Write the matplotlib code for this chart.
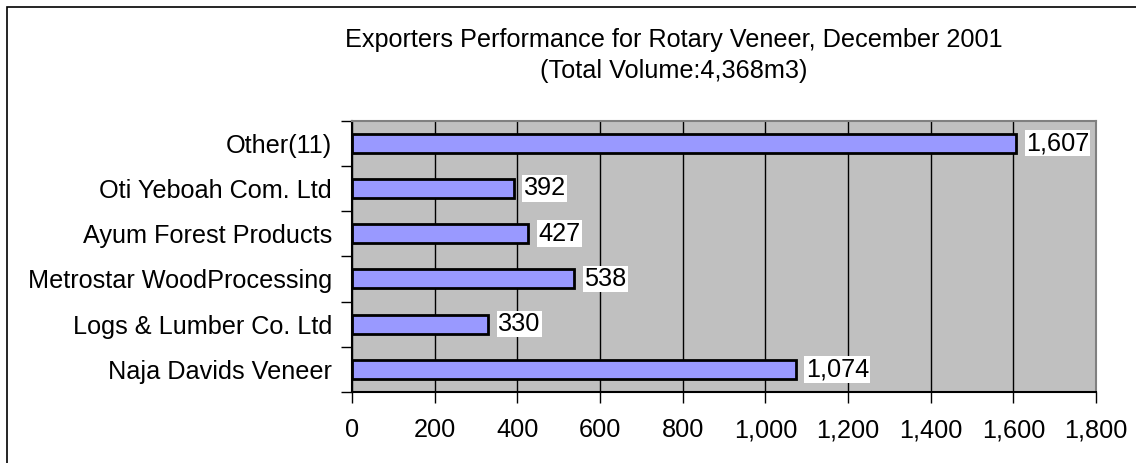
import matplotlib.pyplot as plt
from matplotlib.patches import Rectangle
from matplotlib.ticker import FuncFormatter

# 数据
companies = ['Naja Davids Veneer', 'Logs & Lumber Co. Ltd', 'Metrostar WoodProcessing',
             'Ayum Forest Products', 'Oti Yeboah Com. Ltd', 'Other(11)']
volumes = [1074, 330, 538, 427, 392, 1607]
xticks = [0, 200, 400, 600, 800, 1000, 1200, 1400, 1600, 1800]

plt.rcParams['font.family'] = ['Liberation Sans', 'DejaVu Sans']
fs = 18.2

fig = plt.figure(figsize=(11.36, 4.63), dpi=100)
ax = fig.add_axes([352 / 1136, 71 / 463, 744 / 1136, 271.5 / 463])
ax.set_facecolor('#c0c0c0')

pos = list(range(len(companies)))
ax.barh(pos, volumes, height=0.42, color='#9999ff', edgecolor='black', linewidth=2, zorder=3)

# 数据标签
for p, v in zip(pos, volumes):
    ax.annotate(f'{v:,}', (v, p), xytext=(7, 0), textcoords='offset points',
                va='center', ha='left', fontsize=fs, zorder=4,
                bbox=dict(facecolor='white', edgecolor='none', pad=1))

ax.set_xlim(0, 1800)
ax.set_ylim(-0.5, len(companies) - 0.5)
ax.set_xticks(xticks)
ax.xaxis.set_major_formatter(FuncFormatter(lambda x, _: f'{int(x):,}'))
ax.xaxis.grid(True, color='black', linewidth=1, zorder=1)
ax.set_axisbelow(True)

ax.set_yticks(pos)
ax.set_yticklabels(companies)
ax.set_yticks([p - 0.5 for p in pos] + [len(companies) - 0.5], minor=True)
ax.tick_params(axis='y', which='major', length=0, pad=14.4, labelsize=fs)
ax.tick_params(axis='y', which='minor', length=8, width=1, color='black')
ax.tick_params(axis='x', length=8, width=1, pad=11, labelsize=fs)

for s in ['left', 'bottom']:
    ax.spines[s].set_color('black')
    ax.spines[s].set_linewidth(1.5)
for s in ['right', 'top']:
    ax.spines[s].set_color('#808080')
    ax.spines[s].set_linewidth(1.5)

fig.text(674 / 1136, 1 - 40 / 463, 'Exporters Performance for Rotary Veneer, December 2001',
         ha='center', va='center', fontsize=fs)
fig.text(674 / 1136, 1 - 71 / 463, '(Total Volume:4,368m3)',
         ha='center', va='center', fontsize=fs)

# 外框
fig.patches.append(Rectangle((7 / 1136, -0.1), 1.2, 1.1 - 7 / 463, transform=fig.transFigure,
                             fill=False, edgecolor='black', linewidth=1.2))

fig.savefig('out.png', dpi=100)
